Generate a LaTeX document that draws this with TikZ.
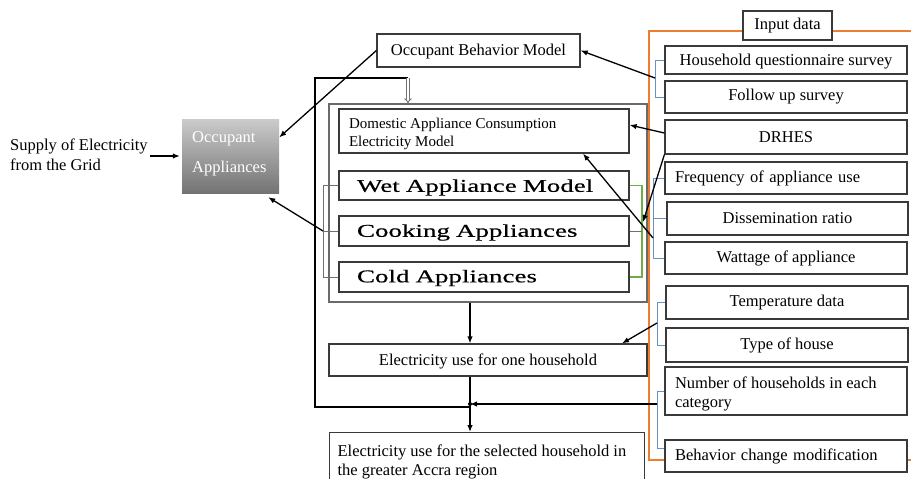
\documentclass[tikz,border=0pt]{standalone}
\usepackage{fontspec}
\setmainfont{Liberation Serif}
\newfontfamily\widefont[FakeStretch=1.5,FakeBold=0.5]{Liberation Serif}
\usetikzlibrary{arrows.meta,calc}
\definecolor{boxline}{HTML}{3A3A3A}
\definecolor{contline}{HTML}{6A6A6A}
\definecolor{orangeline}{HTML}{ED7D31}
\definecolor{bluebr}{HTML}{6A90C4}
\definecolor{greenbr}{HTML}{70AD47}
\definecolor{graybr}{HTML}{707070}
\definecolor{oatop}{HTML}{CBCBCB}
\definecolor{oabot}{HTML}{737373}
\newcommand{\lowerby}[2]{\raisebox{-#1}[\height][\depth]{#2}}
\begin{document}
\begin{tikzpicture}[x=1pt,y=-1pt,
  txt/.style={inner sep=0pt, font=\fontsize{16.5}{19.5}\selectfont},
  box/.style={draw=boxline, line width=1.2pt, fill=white, rectangle, inner sep=0pt,
    font=\fontsize{16.5}{19.5}\selectfont, align=center},
  rbox/.style={box, minimum width=242pt},
  lbox/.style={box, text width=222pt, inner xsep=10pt, align=left},
  widebox/.style={box, minimum height=30pt, text width=254pt, inner xsep=18pt, align=left,
    font=\widefont\fontsize{18}{20}\selectfont},
  contbox/.style={draw=contline, line width=1.1pt, fill=white, inner sep=0pt},
  arr/.style={draw=black, line width=1.3pt, -{Latex[length=7pt,width=5.5pt]}},
  bluebrk/.style={draw=bluebr, line width=0.8pt},
  greenbrk/.style={draw=greenbr, line width=1.2pt},
  graybrk/.style={draw=graybr, line width=0.8pt},
  loopline/.style={draw=black, line width=2.2pt},
  dblarr/.style={draw=black!55, double=white, double distance=1.6pt, line width=0.9pt, -{Implies}}
]
\useasboundingbox (0,0) rectangle (911,479);
\clip (0,0) rectangle (911,479);

% orange frame of input data
\draw[orangeline, line width=2pt] (930,31) -- (649,31) -- (649,460) -- (930,460);

% left side
\node[txt, anchor=west, align=left] (supply) at (10,155) {Supply of Electricity\\from the Grid};
\node[minimum width=97pt, minimum height=74pt, inner sep=0pt, top color=oatop, bottom color=oabot] (oa) at (230.5,156) {};
\node[txt, text=white, align=left, anchor=north west, font=\fontsize{16.5}{30}\selectfont] (oalbl) at (192,131.5) {Occupant\\Appliances};

% centre column
\node[box, minimum width=203pt, minimum height=33pt] (obm) at (478.5,50.5) {\lowerby{1.5pt}{Occupant Behavior Model}};
\node[contbox, minimum width=318pt, minimum height=198pt] (cont) at (488,203) {};
\node[box, minimum width=290pt, minimum height=44pt, font=\fontsize{15}{18}\selectfont] (dom) at (484,131)
  {\lowerby{3pt}{\parbox{270pt}{\raggedright Domestic Appliance Consumption\\Electricity Model}}};
\node[widebox, minimum height=29pt] (wet) at (484,185.5) {\lowerby{2pt}{Wet Appliance Model}};
\node[widebox] (cook) at (484,231) {\lowerby{1.5pt}{Cooking Appliances}};
\node[widebox] (cold) at (484,277) {\lowerby{1pt}{Cold Appliances}};
\node[box, minimum width=318pt, minimum height=32pt] (e1) at (488,360) {\lowerby{1pt}{Electricity use for one household}};
\node[box, anchor=north west, minimum width=315pt, minimum height=57pt, font=\fontsize{16.5}{19}\selectfont] (e2) at (329,432)
  {\lowerby{1pt}{\parbox{299pt}{\raggedright Electricity use for the selected household in\\the greater Accra region}}};

% right column
\node[box, minimum width=89pt, minimum height=29pt] (input) at (787.5,25.5) {Input data};
\node[rbox, minimum height=28pt] (hq) at (786,60) {\lowerby{1.5pt}{Household questionnaire survey}};
\node[rbox, minimum height=32pt] (fu) at (786,97) {Follow up survey};
\node[rbox, minimum height=34pt] (drhes) at (786,137) {DRHES};
\node[lbox, minimum height=32pt] (freq) at (786,178) {Frequency of appliance use};
\node[rbox, minimum width=241pt, minimum height=33pt] (diss) at (787.5,218.5) {Dissemination ratio};
\node[rbox, minimum height=32pt] (watt) at (786,258) {Wattage of appliance};
\node[rbox, minimum height=33pt] (temp) at (787,302.5) {Temperature data};
\node[rbox, minimum height=34pt] (type) at (787,345) {Type of house};
\node[box, minimum width=242pt, minimum height=48pt] (num) at (786,391)
  {\lowerby{3pt}{\parbox{222pt}{\raggedright Number of households in each\\category}}};
\node[lbox, minimum height=32pt] (beh) at (786,456) {Behavior change modification};

% helper coordinates
\coordinate (b1x) at (655,0);
\coordinate (b2x) at (653,0);
\coordinate (b3x) at (657,0);
\coordinate (b4x) at (657,0);
\coordinate (gx) at (642,0);
\coordinate (lx) at (323,0);
\coordinate (mx) at (470,0);
\coordinate (b1m) at (655,78);
\coordinate (b2s) at (653,238);
\coordinate (b3m) at (657,323);
\coordinate (b4m) at (657,404);
\coordinate (g2) at (643,222);
\coordinate (jn) at (470,404);
\coordinate (lpend) at (470,407);
\coordinate (lpbl) at (315,407);
\coordinate (lptl) at (315,78);
\coordinate (lptr) at (408,78);

% brackets
\draw[bluebrk] (hq.west) -- (hq.west -| b1x) |- (fu.west);
\draw[bluebrk] (freq.west) -- (freq.west -| b2x) |- (watt.west);
\draw[bluebrk] (diss.west) -- (diss.west -| b2x);
\draw[bluebrk] (temp.west) -- (temp.west -| b3x) |- (type.west);
\draw[bluebrk] (num.west) -- (num.west -| b4x) |- ([yshift=8pt]beh.west);
\draw[greenbrk] (wet.east) -- (wet.east -| gx) |- (cold.east);
\draw[graybrk] (cook.east) -- (cook.east -| gx);
\draw[graybrk] (wet.west) -- (wet.west -| lx) |- (cold.west);
\draw[graybrk] (cook.west) -- (cook.west -| lx);

% feedback loop
\draw[loopline] (lpend) -- (lpbl) -- (lptl) -- (lptr);
\draw[dblarr] (lptr) -- (cont.north -| lptr);

% arrows
\draw[arr] ($(supply.east |- oa.west)+(2,0)$) -- ([xshift=-2pt]oa.west);
\draw[arr] (obm.west) -- ($(oa.north east)!0.25!(oa.south east)$);
\draw[arr] (b1m) -- (obm.east);
\draw[arr] ([yshift=4pt]drhes.west) -- ([yshift=6pt]dom.east);
\draw[arr] (drhes.south west) -- (g2);
\draw[arr] (b2s) -- ($(dom.south west)!0.84!(dom.south east)$);
\draw[arr] (b3m) -- ($(e1.north west)!0.92!(e1.north east)$);
\draw[arr] (b4m) -- (jn);
\draw[arr] (cont.south -| mx) -- (e1.north -| mx);
\draw[arr] (e1.south -| mx) -- (e2.north -| mx);
\fill (jn) circle (2pt);
\draw[arr] (cook.west -| lx) -- ($(oa.south east)+(-11,4)$);
\end{tikzpicture}
\end{document}
